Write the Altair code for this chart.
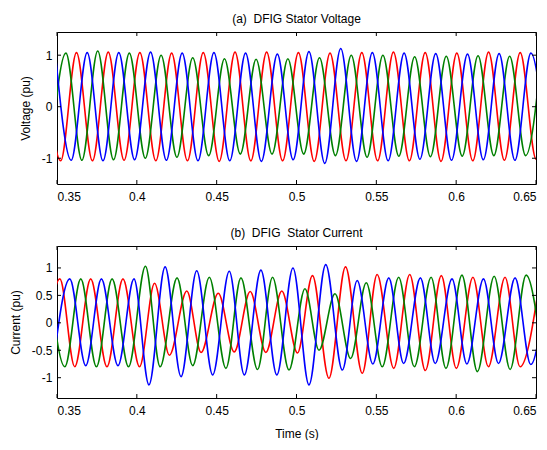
import altair as alt
import pandas as pd

# ---------------- data (extrema) ----------------
X_TICKS = [0.35, 0.4, 0.45, 0.5, 0.55, 0.6, 0.65]
YA_TICKS = [-1, 0, 1]
YB_TICKS = [-1, -0.5, 0, 0.5, 1]

# Panel (a) stator voltage
A_BLUE_T = [0.3490, 0.3589, 0.3689, 0.3788, 0.3887, 0.3986, 0.4086, 0.4185, 0.4284, 0.4383,
            0.4483, 0.4582, 0.4681, 0.4780, 0.4880, 0.4979, 0.5078, 0.5177, 0.5277, 0.5376,
            0.5475, 0.5574, 0.5674, 0.5773, 0.5872, 0.5971, 0.6071, 0.6170, 0.6269, 0.6368,
            0.6468, 0.6567]
A_BLUE_V = [1.02, -1.04, 1.05, -1.05, 1.05, -1.03, 1.06, -1.04, 1.04, -1.05,
            1.05, -1.05, 1.04, -1.06, 1.02, -1.03, 1.07, -1.10, 1.13, -1.06,
            1.05, -1.05, 1.04, -1.02, 1.03, -1.04, 1.02, -1.03, 1.03, -1.04,
            1.04, -1.00]
A_RED_T = [0.3424, 0.3523, 0.3622, 0.3722, 0.3821, 0.3920, 0.4019, 0.4119, 0.4218, 0.4317,
           0.4416, 0.4516, 0.4615, 0.4714, 0.4813, 0.4913, 0.5012, 0.5111, 0.5210, 0.5310,
           0.5409, 0.5508, 0.5607, 0.5707, 0.5806, 0.5905, 0.6004, 0.6104, 0.6203, 0.6302,
           0.6401, 0.6501, 0.6600]
A_RED_V = [1.00, -1.05, 1.05, -1.05, 1.06, -1.04, 1.05, -1.05, 1.04, -1.05,
           1.05, -1.06, 1.06, -1.05, 1.06, -1.05, 1.05, -1.06, 1.04, -1.05,
           1.05, -1.05, 1.06, -1.05, 1.05, -1.06, 1.04, -1.05, 1.06, -1.04,
           1.05, -1.02, 1.00]
A_GREEN_T = [0.3457, 0.3556, 0.3656, 0.3755, 0.3854, 0.3953, 0.4053, 0.4152, 0.4251, 0.4350,
             0.4450, 0.4549, 0.4648, 0.4747, 0.4847, 0.4946, 0.5045, 0.5144, 0.5244, 0.5343,
             0.5442, 0.5541, 0.5641, 0.5740, 0.5839, 0.5938, 0.6038, 0.6137, 0.6236, 0.6335,
             0.6435, 0.6534]
A_GREEN_V = [-1.00, 1.04, -1.04, 1.08, -1.03, 1.04, -1.00, 1.00, -0.98, 0.95,
             -0.95, 0.93, -0.92, 0.92, -0.92, 0.93, -0.92, 0.95, -0.95, 1.00,
             -0.98, 1.00, -0.96, 0.97, -0.97, 0.98, -0.96, 0.99, -0.95, 0.98,
             -0.95, 1.00]

# Panel (b) stator current
B_BLUE_T = [0.3475, 0.3580, 0.3680, 0.3778, 0.3882, 0.3982, 0.4076, 0.4177, 0.4277, 0.4375,
            0.4475, 0.4579, 0.4673, 0.4777, 0.4877, 0.4978, 0.5078, 0.5183, 0.5287, 0.5380,
            0.5478, 0.5578, 0.5671, 0.5776, 0.5869, 0.5974, 0.6067, 0.6171, 0.6265, 0.6369,
            0.6467, 0.6567]
B_BLUE_V = [-0.78, 0.80, -0.78, 0.80, -0.78, 0.80, -1.13, 1.02, -0.98, 0.95,
            -0.95, 0.94, -0.95, 0.96, -0.95, 1.00, -1.13, 1.06, -0.86, 0.77,
            -0.75, 0.82, -0.74, 0.82, -0.74, 0.80, -0.75, 0.80, -0.74, 0.82,
            -0.76, 0.80]
B_RED_T = [0.3418, 0.3518, 0.3611, 0.3711, 0.3813, 0.3913, 0.4017, 0.4111, 0.4204, 0.4313,
           0.4402, 0.4510, 0.4610, 0.4710, 0.4808, 0.4908, 0.5006, 0.5100, 0.5203, 0.5307,
           0.5412, 0.5505, 0.5609, 0.5709, 0.5807, 0.5907, 0.6001, 0.6105, 0.6202, 0.6306,
           0.6400, 0.6525]
B_RED_V = [-0.80, 0.80, -0.80, 0.80, -0.80, 0.80, -0.80, 0.72, -0.59, 0.58,
           -0.54, 0.54, -0.53, 0.57, -0.54, 0.58, -0.55, 0.86, -1.01, 1.02,
           -0.92, 0.88, -0.83, 0.88, -0.87, 0.86, -0.83, 0.83, -0.80, 0.83,
           -0.80, 0.80]
B_GREEN_T = [0.3450, 0.3549, 0.3649, 0.3747, 0.3845, 0.3948, 0.4054, 0.4146, 0.4252, 0.4350,
             0.4454, 0.4558, 0.4652, 0.4756, 0.4850, 0.4953, 0.5053, 0.5141, 0.5241, 0.5339,
             0.5437, 0.5537, 0.5640, 0.5738, 0.5843, 0.5936, 0.6036, 0.6133, 0.6238, 0.6338,
             0.6438, 0.6545]
B_GREEN_V = [0.80, -0.80, 0.80, -0.80, 0.80, -0.80, 1.03, -0.80, 0.82, -0.78,
             0.83, -0.83, 0.82, -0.85, 0.83, -0.86, 0.62, -0.50, 0.53, -0.65,
             0.73, -0.80, 0.83, -0.80, 0.83, -0.83, 0.87, -0.89, 0.85, -0.85,
             0.87, -0.80]

PHASES = ["a", "b", "c"]
COLORS = ["#ff0000", "#008000", "#0000ff"]
FONT = "Liberation Sans"


def frame(series):
    rows = []
    for phase, ts, vs in series:
        for t, v in zip(ts, vs):
            rows.append({"t": t, "v": v, "phase": phase})
    return pd.DataFrame(rows)


df_a = frame([("a", A_RED_T, A_RED_V), ("b", A_GREEN_T, A_GREEN_V), ("c", A_BLUE_T, A_BLUE_V)])
df_b = frame([("a", B_RED_T, B_RED_V), ("b", B_GREEN_T, B_GREEN_V), ("c", B_BLUE_T, B_BLUE_V)])

W, H = 479, 152
TL = 4  # tick length (px)

AX = dict(labelExpr="datum.value + ''", ticks=False, grid=False, domain=False,
          labelFont=FONT, titleFont=FONT, labelFontSize=12, titleFontSize=12,
          titleFontWeight="normal", labelColor="black", titleColor="black")


def panel(df, ydom, yticks, ytitle, title, xtitle):
    xaxis = alt.Axis(values=X_TICKS, labelPadding=7, titlePadding=12, title=xtitle, **AX)
    yaxis = alt.Axis(values=yticks, title=ytitle, labelPadding=5, titlePadding=9, **AX)
    xs = alt.Scale(domain=[0.35, 0.65], nice=False, zero=False)
    ys = alt.Scale(domain=ydom, nice=False, zero=False)
    X = alt.X("t:Q", scale=xs, axis=xaxis)
    Y = alt.Y("v:Q", scale=ys, axis=yaxis)
    lines = alt.Chart(df).mark_line(clip=True, strokeWidth=1.6, interpolate="monotone").encode(
        x=X, y=Y,
        color=alt.Color("phase:N", scale=alt.Scale(domain=PHASES, range=COLORS), legend=None),
    )
    xt = pd.DataFrame({"t": X_TICKS})
    yt = pd.DataFrame({"v": yticks})
    bot = alt.Chart(xt).mark_rule(color="black").encode(x=X, y=alt.value(H), y2=alt.value(H - TL))
    top = alt.Chart(xt).mark_rule(color="black").encode(x=X, y=alt.value(0), y2=alt.value(TL))
    left = alt.Chart(yt).mark_rule(color="black").encode(y=Y, x=alt.value(0), x2=alt.value(TL))
    right = alt.Chart(yt).mark_rule(color="black").encode(y=Y, x=alt.value(W), x2=alt.value(W - TL))
    return alt.layer(lines, bot, top, left, right).properties(
        width=W, height=H,
        view=alt.ViewBackground(stroke="black", strokeWidth=1),
        title=alt.TitleParams(title, fontSize=12, fontWeight="normal", offset=6,
                              font=FONT, color="black"),
    )


pa = panel(df_a, [-1.5, 1.45], YA_TICKS, "Voltage (pu)", "(a)\u00a0 DFIG Stator Voltage", None)
pb = panel(df_b, [-1.37, 1.4], YB_TICKS, "Current (pu)", "(b)\u00a0 DFIG\u00a0 Stator Current", "Time (s)")

chart = alt.vconcat(pa, pb, spacing=23).properties(
    padding={"left": 0, "top": 4, "right": 0, "bottom": 0},
    background="white",
).configure_view(stroke="black", strokeWidth=1)

chart.save("out.html", embed_options={"renderer": "svg", "actions": False})
